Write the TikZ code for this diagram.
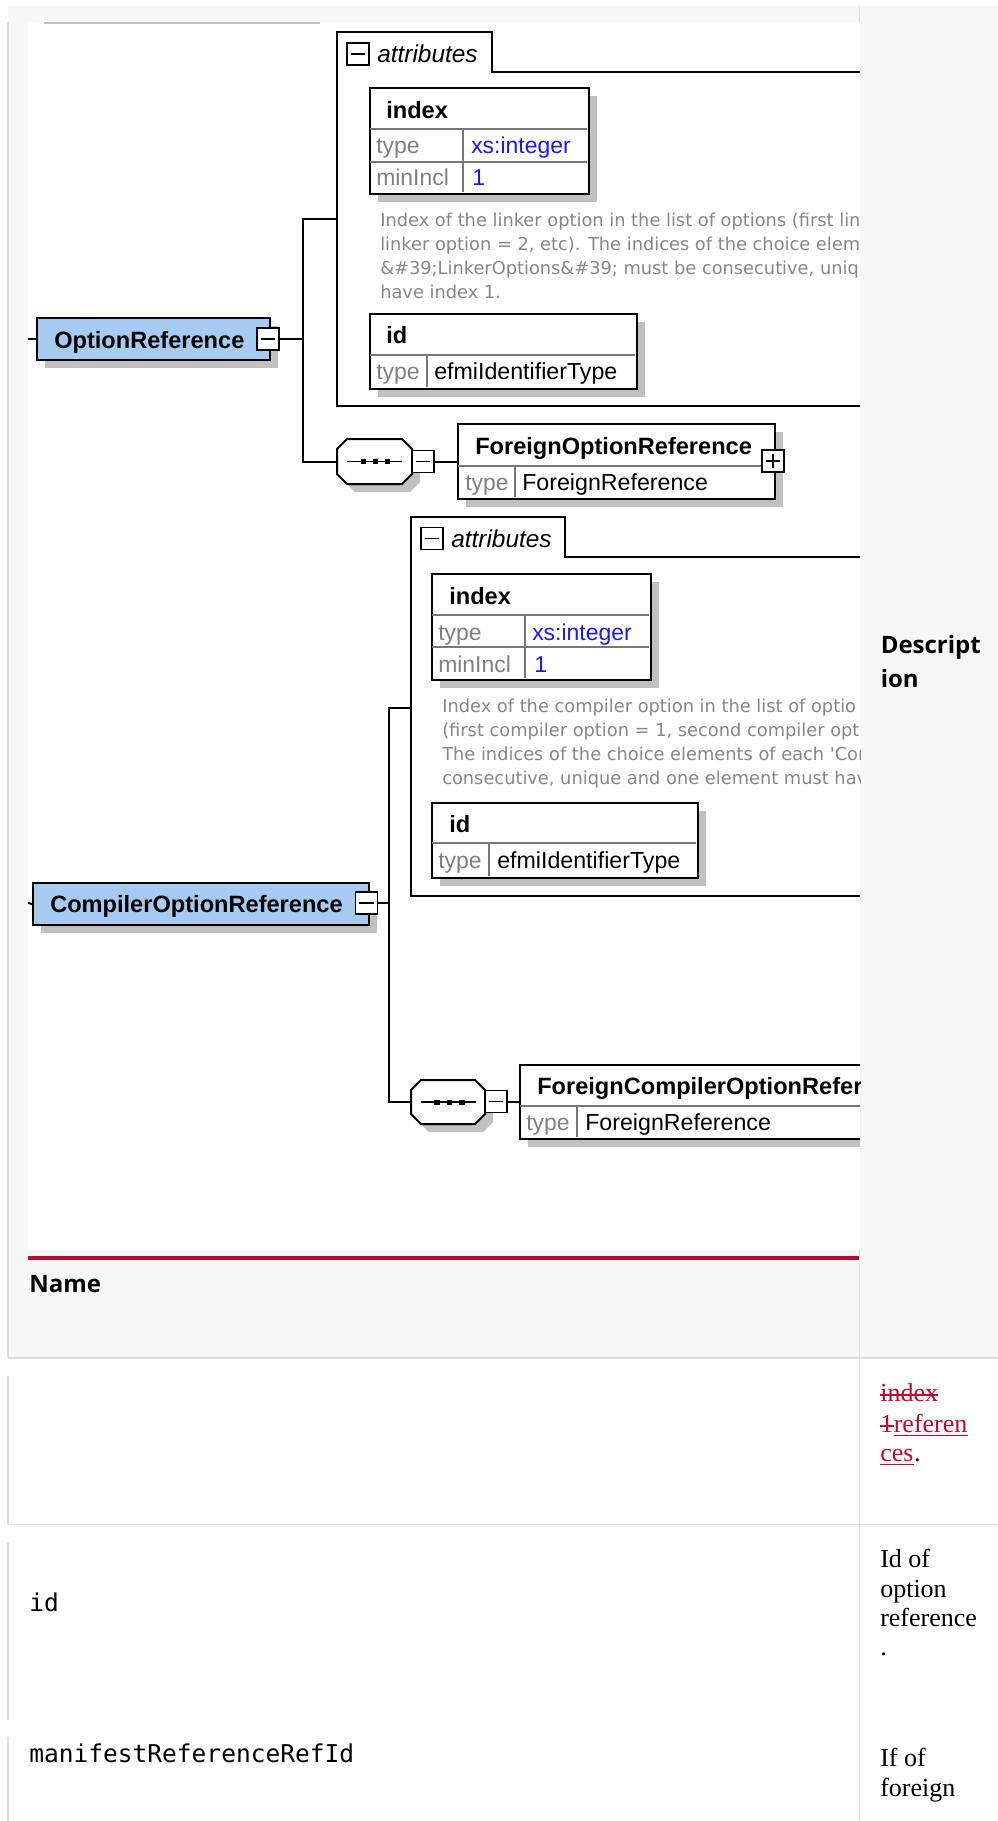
\documentclass[tikz,border=0pt]{standalone}
\usepackage{fontspec}
\usetikzlibrary{shadows}
\newfontfamily\diafont{Liberation Sans}
\newfontfamily\descfont{DejaVu Sans}
\newfontfamily\hdrfont{Open Sans}
\newfontfamily\serfont{Liberation Serif}
\newfontfamily\monofont{DejaVu Sans Mono}
\newcommand{\pxu}[1]{#1*0.75pt}
\definecolor{panelgrey}{RGB}{247,247,247}
\definecolor{borderl}{RGB}{221,221,221}
\definecolor{crim}{RGB}{186,12,47}
\definecolor{elblue}{RGB}{166,202,240}
\definecolor{shgrey}{RGB}{192,192,192}
\definecolor{lblgrey}{RGB}{128,128,128}
\definecolor{valblue}{RGB}{25,25,245}
\definecolor{descgrey}{RGB}{135,135,135}
\definecolor{rowline}{RGB}{120,120,120}
\definecolor{topbarc}{RGB}{196,196,196}
\tikzset{
  sep/.style={draw=borderl, line width=1.1pt},
  conn/.style={draw=black, line width=1.5pt},
  grpline/.style={draw=black, line width=1.5pt},
  rowdiv/.style={draw=rowline, line width=1.2pt},
  markline/.style={draw=crim, line width=1.1pt},
  elemblue/.style={rectangle, draw=black, line width=1.5pt, fill=elblue, anchor=north west, inner sep=0pt,
    general shadow={fill=shgrey, shadow xshift=6pt, shadow yshift=-6pt}},
  tbox/.style={rectangle, draw=black, line width=1.5pt, fill=white, anchor=north west, inner sep=0pt,
    general shadow={fill=shgrey, shadow xshift=6pt, shadow yshift=-6pt}},
  minusbox/.style={rectangle, draw=black, line width=1.2pt, fill=white, minimum size=\pxu{22}, inner sep=0pt,
    path picture={\draw[line width=1.2pt] ([xshift=2.8pt]path picture bounding box.west) -- ([xshift=-2.8pt]path picture bounding box.east);}},
  plusbox/.style={rectangle, draw=black, line width=1.2pt, fill=white, minimum size=\pxu{22}, inner sep=0pt,
    path picture={\draw[line width=1.2pt] ([xshift=2.8pt]path picture bounding box.west) -- ([xshift=-2.8pt]path picture bounding box.east);
      \draw[line width=1.2pt] ([yshift=-2.8pt]path picture bounding box.north) -- ([yshift=2.8pt]path picture bounding box.south);}},
  anchorbox/.style={rectangle, inner sep=0pt},
  nametxt/.style={anchor=base west, inner sep=0pt, font=\diafont\bfseries\fontsize{17.7pt}{20pt}\selectfont},
  lbltxt/.style={anchor=base west, inner sep=0pt, text=lblgrey, font=\diafont\fontsize{17.2pt}{20pt}\selectfont},
  valtxt/.style={anchor=base west, inner sep=0pt, text=valblue, font=\diafont\fontsize{17.2pt}{20pt}\selectfont},
  blktxt/.style={anchor=base west, inner sep=0pt, text=black, font=\diafont\fontsize{17.4pt}{20pt}\selectfont},
  attrtxt/.style={anchor=base west, inner sep=0pt, font=\diafont\itshape\fontsize{18.3pt}{20pt}\selectfont},
  desctxt/.style={anchor=base west, inner sep=0pt, text=descgrey, font=\descfont\fontsize{13.35pt}{16pt}\selectfont},
  hdrtxt/.style={anchor=base west, inner sep=0pt, font=\hdrfont\bfseries\fontsize{18pt}{22pt}\selectfont},
  sertxt/.style={anchor=base west, inner sep=0pt, font=\serfont\fontsize{19.5pt}{22.5pt}\selectfont},
  monotxt/.style={anchor=base west, inner sep=0pt, font=\monofont\fontsize{18.4pt}{22pt}\selectfont},
}
\begin{document}
\begin{tikzpicture}[x=0.75pt,y=-0.75pt]
\useasboundingbox (0,0) rectangle (998,1821);
\fill[white] (0,0) rectangle (998,1821);
% table backgrounds
\fill[panelgrey] (8,6) rectangle (998,1358);
\fill[white] (28,22) rectangle (860,1250);
\draw[sep] (8,22) -- (8,1358);
\draw[sep] (859.5,6) -- (859.5,22);
\draw[sep] (859.5,1250) -- (859.5,1821);
\draw[sep] (8,1358) -- (998,1358);
\draw[sep] (8,1524.5) -- (998,1524.5);
\draw[sep] (8,1376) -- (8,1524);
\draw[sep] (8,1543) -- (8,1720);
\draw[sep] (8,1737) -- (8,1821);
\fill[crim] (28,1256) rectangle (859,1260);
\draw[draw=topbarc, line width=1.4pt] (44,23) -- (320,23);

\begin{scope}
\clip (28,22) rectangle (860,1250);

% ---------- attributes group 1 ----------
\draw[grpline] (880,72) -- (492,72) -- (492,32) -- (337,32) -- (337,406) -- (880,406);
\node[minusbox] (a1m) at (358,54) {};
\node[attrtxt] (a1t) at (377,62) {attributes};

\node[tbox, minimum width=\pxu{219}, minimum height=\pxu{106}] (i1) at (369,87) {};
\draw[rowdiv] (370,129) -- (587,129);
\draw[rowdiv] (370,162) -- (587,162);
\draw[rowdiv] (463,129) -- (463,192);
\node[nametxt] (i1n) at (386,118) {index};
\node[lbltxt] (i1tl) at (376,153) {type};
\node[valtxt] (i1tv) at (471,153) {xs:integer};
\node[lbltxt] (i1ml) at (376,185) {minIncl};
\node[valtxt] (i1mv) at (472,185) {1};

\node[desctxt] (d1l1) at (380,226) {Index of the linker option in the list of options (first lin};
\node[desctxt] (d1l2) at (380,250) {linker option = 2, etc). The indices of the choice elem};
\node[desctxt] (d1l3) at (380,274) {\&\#39;LinkerOptions\&\#39; must be consecutive, uniq};
\node[desctxt] (d1l4) at (380,298) {have index 1.};

\node[tbox, minimum width=\pxu{267}, minimum height=\pxu{75}] (id1) at (369,313) {};
\draw[rowdiv] (370,355) -- (635,355);
\draw[rowdiv] (427,355) -- (427,387);
\node[nametxt] (id1n) at (386,343) {id};
\node[lbltxt] (id1tl) at (376,379) {type};
\node[blktxt] (id1tv) at (434,379) {efmiIdentifierType};

% ---------- OptionReference ----------
\node[elemblue, minimum width=\pxu{233}, minimum height=\pxu{42}] (or) at (36,317) {};
\node[nametxt] (ort) at (54,348) {OptionReference};
\node[minusbox] (orm) at (268,339) {};
\coordinate (orin) at (28,339);
\coordinate (orj) at (303,339);
\coordinate (a1in) at (337,219);

% sequence 1
\fill[shgrey, shift={(8,8)}] (347,439) -- (402,439) -- (412,449) -- (412,474) -- (402,484) -- (347,484) -- (337,474) -- (337,449) -- cycle;
\draw[grpline, fill=white] (347,439) -- (402,439) -- (412,449) -- (412,474) -- (402,484) -- (347,484) -- (337,474) -- (337,449) -- cycle;
\node[anchorbox, minimum width=\pxu{75}, minimum height=\pxu{45}] (s1) at (374.5,461.5) {};
\draw[line width=1.2pt] (347,461.5) -- (402,461.5);
\fill (360.5,459) rectangle (366,464);
\fill (372.5,459) rectangle (378,464);
\fill (384.5,459) rectangle (390,464);
\node[minusbox] (s1m) at (423,461.5) {};

% ForeignOptionReference
\node[tbox, minimum width=\pxu{317}, minimum height=\pxu{75}] (for) at (457,423) {};
\draw[rowdiv] (458,466) -- (773,466);
\draw[rowdiv] (515,466) -- (515,497);
\node[nametxt] (fort) at (475,454) {ForeignOptionReference};
\node[lbltxt] (fortl) at (465,490) {type};
\node[blktxt] (fortv) at (522,490) {ForeignReference};
\node[plusbox] (forp) at (773,461) {};

% connectors group 1
\draw[conn] (orin) -- (or.west);
\draw[conn] (orm.east) -- (orj);
\draw[conn] (a1in) -| (orj);
\draw[conn] (s1.west) -| (orj);
\draw[conn] (s1m.east) -- (s1m.east -| for.west);

% ---------- attributes group 2 ----------
\draw[grpline] (880,557) -- (565,557) -- (565,517) -- (411,517) -- (411,896) -- (880,896);
\node[minusbox] (a2m) at (432,538.5) {};
\node[attrtxt] (a2t) at (451,547) {attributes};

\node[tbox, minimum width=\pxu{219}, minimum height=\pxu{106}] (i2) at (431,573) {};
\draw[rowdiv] (432,615) -- (649,615);
\draw[rowdiv] (432,647) -- (649,647);
\draw[rowdiv] (525,615) -- (525,678);
\node[nametxt] (i2n) at (449,604) {index};
\node[lbltxt] (i2tl) at (438,640) {type};
\node[valtxt] (i2tv) at (532,640) {xs:integer};
\node[lbltxt] (i2ml) at (438,672) {minIncl};
\node[valtxt] (i2mv) at (534,672) {1};

\node[desctxt] (d2l1) at (442,712) {Index of the compiler option in the list of optio};
\node[desctxt] (d2l2) at (442,736) {(first compiler option = 1, second compiler opt};
\node[desctxt] (d2l3) at (442,760) {The indices of the choice elements of each \symbol{39}Com};
\node[desctxt] (d2l4) at (442,784) {consecutive, unique and one element must hav};

\node[tbox, minimum width=\pxu{266}, minimum height=\pxu{75}] (id2) at (431,802) {};
\draw[rowdiv] (432,843) -- (696,843);
\draw[rowdiv] (489,843) -- (489,876);
\node[nametxt] (id2n) at (449,832) {id};
\node[lbltxt] (id2tl) at (438,868) {type};
\node[blktxt] (id2tv) at (497,868) {efmiIdentifierType};

% ---------- CompilerOptionReference ----------
\node[elemblue, minimum width=\pxu{336}, minimum height=\pxu{42}] (cor) at (32,882) {};
\node[nametxt] (cort) at (50,912) {CompilerOptionReference};
\node[minusbox] (corm) at (366.5,903) {};
\coordinate (corin) at (28,903);
\coordinate (corj) at (389,903);
\coordinate (a2in) at (411,708);

% sequence 2
\fill[shgrey, shift={(8,8)}] (421,1080) -- (475,1080) -- (485,1090) -- (485,1114) -- (475,1124) -- (421,1124) -- (411,1114) -- (411,1090) -- cycle;
\draw[grpline, fill=white] (421,1080) -- (475,1080) -- (485,1090) -- (485,1114) -- (475,1124) -- (421,1124) -- (411,1114) -- (411,1090) -- cycle;
\node[anchorbox, minimum width=\pxu{74}, minimum height=\pxu{44}] (s2) at (448,1102) {};
\draw[line width=1.2pt] (421,1102) -- (476,1102);
\fill (434,1099.5) rectangle (439.5,1104.5);
\fill (446.5,1099.5) rectangle (452,1104.5);
\fill (459,1099.5) rectangle (464.5,1104.5);
\node[minusbox] (s2m) at (496,1101.5) {};

% ForeignCompilerOptionReference
\node[tbox, minimum width=\pxu{420}, minimum height=\pxu{74}] (fcor) at (519,1064) {};
\draw[rowdiv] (520,1106) -- (938,1106);
\draw[rowdiv] (577,1106) -- (577,1137);
\node[nametxt] (fcort) at (537,1094) {ForeignCompilerOptionReference};
\node[lbltxt] (fcortl) at (526,1130) {type};
\node[blktxt] (fcortv) at (585,1130) {ForeignReference};

% connectors group 2
\draw[conn] (corin) -- (cor.west);
\draw[conn] (corm.east) -- (corj);
\draw[conn] (a2in) -| (corj);
\draw[conn] (s2.west) -| (corj);
\draw[conn] (s2m.east) -- (s2m.east -| fcor.west);
\end{scope}

% ---------- table texts ----------
\node[hdrtxt] (hdesc1) at (880.5,653) {Descript};
\node[hdrtxt] (hdesc2) at (880.5,687) {ion};
\node[hdrtxt] (hname) at (29,1292) {Name};

\node[sertxt, text=crim] (r1a) at (880,1401) {index};
\node[sertxt, text=crim] (r1b) at (880,1432) {1};
\node[sertxt, text=crim] (r1c) at (r1b.base east) {referen};
\node[sertxt, text=crim] (r1d) at (880,1461) {ces};
\node[sertxt] (r1e) at (r1d.base east) {.};
\draw[markline] ([yshift=4.6pt]r1a.base west) -- ([yshift=4.6pt]r1a.base east);
\draw[markline] ([yshift=4.6pt]r1b.base west) -- ([yshift=4.6pt]r1b.base east);
\draw[markline] ([yshift=-2.6pt]r1c.base west) -- ([yshift=-2.6pt]r1c.base east);
\draw[markline] ([yshift=-2.6pt]r1d.base west) -- ([yshift=-2.6pt]r1d.base east);

\node[monotxt] (r2n) at (29,1611) {id};
\node[sertxt] (r2a) at (880,1567.5) {Id of};
\node[sertxt] (r2b) at (880,1597) {option};
\node[sertxt] (r2c) at (880,1626) {reference};
\node[sertxt] (r2d) at (880,1655) {.};

\node[monotxt] (r3n) at (29,1762) {manifestReferenceRefId};
\node[sertxt] (r3a) at (880,1766) {If of};
\node[sertxt] (r3b) at (880,1796) {foreign};
\end{tikzpicture}
\end{document}
